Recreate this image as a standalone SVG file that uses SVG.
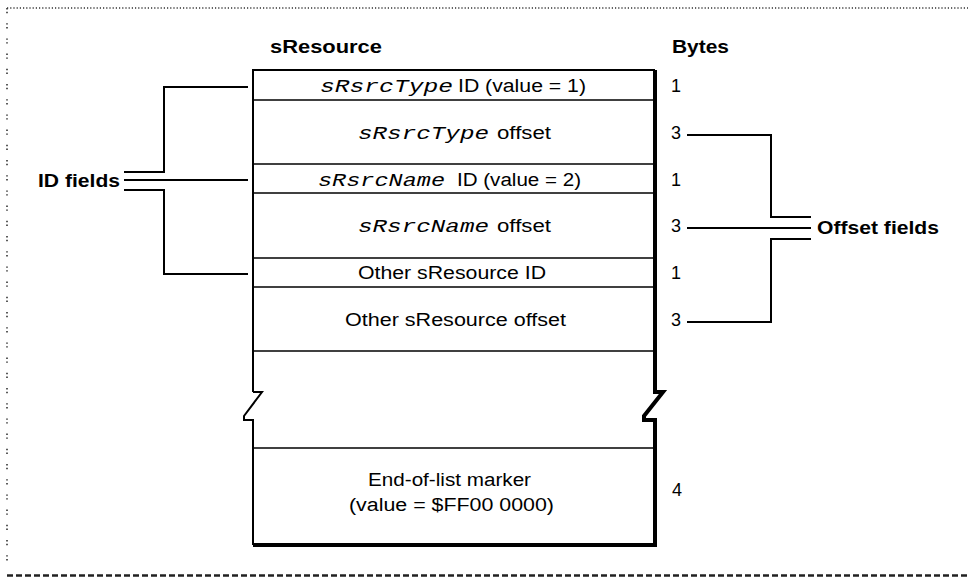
<svg xmlns="http://www.w3.org/2000/svg" width="968" height="579" viewBox="0 0 968 579">
<style>
  .sans { font-family: "Liberation Sans", Arial, sans-serif; font-size: 18px; fill: #000; }
  .code { font-family: "Liberation Mono", "Courier New", monospace; font-style: italic; font-size: 19px; fill: #000; }
  .bold { font-family: "Liberation Sans", Arial, sans-serif; font-weight: bold; font-size: 18px; fill: #000; }
  .num { font-family: "Liberation Sans", Arial, sans-serif; font-size: 18px; fill: #000; }
  .div { stroke: #000; stroke-width: 1.6; fill: none; }
  .frame { stroke: #000; stroke-width: 2; fill: none; stroke-linejoin: miter; }
  .conn { stroke: #000; stroke-width: 2; fill: none; }
</style>
<rect width="968" height="579" fill="#fff"/>
<g id="border">
  <line x1="7" y1="8" x2="968" y2="8" stroke="#333" stroke-width="1.5" stroke-dasharray="1.2 2"/>
  <line x1="7" y1="8" x2="7" y2="568" stroke="#333" stroke-width="1.6" stroke-dasharray="1.4 2.4 1.4 10"/>
  <line x1="7" y1="575.5" x2="968" y2="575.5" stroke="#222" stroke-width="2.5" stroke-dasharray="6 3"/>
</g>
<g id="headers">
  <text class="bold" x="270" y="53" textLength="112" lengthAdjust="spacingAndGlyphs">sResource</text>
  <text class="bold" x="672" y="53" textLength="57" lengthAdjust="spacingAndGlyphs">Bytes</text>
</g>
<g id="sresource-frame">
  <path class="frame" d="M253,392 V70 H655"/>
  <path class="frame" d="M253,392 H262 L244,416 V420 H253 V545"/>
  <path d="M655,70 V392 H663 L644,416 V420 H655 V545" stroke="#000" stroke-width="4" fill="none"/>
  <line x1="253" y1="545" x2="657" y2="545" stroke="#000" stroke-width="4"/>
</g>
<g id="row-srsrctype-id">
  <line class="div" x1="253" y1="100" x2="655" y2="100"/>
  <text class="code" x="320" y="92" textLength="133" lengthAdjust="spacingAndGlyphs">sRsrcType</text>
  <text class="sans" x="458" y="92" textLength="128" lengthAdjust="spacingAndGlyphs">ID (value = 1)</text>
  <text class="num" x="671" y="92">1</text>
</g>
<g id="row-srsrctype-offset">
  <line class="div" x1="253" y1="164" x2="655" y2="164"/>
  <text class="code" x="358" y="139" textLength="131" lengthAdjust="spacingAndGlyphs">sRsrcType</text>
  <text class="sans" x="497" y="139" textLength="54" lengthAdjust="spacingAndGlyphs">offset</text>
  <text class="num" x="671" y="139">3</text>
</g>
<g id="row-srsrcname-id">
  <line class="div" x1="253" y1="193" x2="655" y2="193"/>
  <text class="code" x="318" y="186" textLength="127" lengthAdjust="spacingAndGlyphs">sRsrcName</text>
  <text class="sans" x="457" y="186" textLength="124" lengthAdjust="spacingAndGlyphs">ID (value = 2)</text>
  <text class="num" x="671" y="186">1</text>
</g>
<g id="row-srsrcname-offset">
  <line class="div" x1="253" y1="258" x2="655" y2="258"/>
  <text class="code" x="358" y="232" textLength="131" lengthAdjust="spacingAndGlyphs">sRsrcName</text>
  <text class="sans" x="497" y="232" textLength="54" lengthAdjust="spacingAndGlyphs">offset</text>
  <text class="num" x="671" y="232">3</text>
</g>
<g id="row-other-id">
  <line class="div" x1="253" y1="287" x2="655" y2="287"/>
  <text class="sans" x="358" y="279" textLength="188" lengthAdjust="spacingAndGlyphs">Other sResource ID</text>
  <text class="num" x="671" y="279">1</text>
</g>
<g id="row-other-offset">
  <line class="div" x1="253" y1="351" x2="655" y2="351"/>
  <text class="sans" x="345" y="326" textLength="221" lengthAdjust="spacingAndGlyphs">Other sResource offset</text>
  <text class="num" x="671" y="326">3</text>
</g>
<g id="row-end-marker">
  <line class="div" x1="253" y1="448" x2="655" y2="448"/>
  <text class="sans" x="368" y="486" textLength="163" lengthAdjust="spacingAndGlyphs">End-of-list marker</text>
  <text class="sans" x="349" y="511" textLength="205" lengthAdjust="spacingAndGlyphs">(value = $FF00 0000)</text>
  <text class="num" x="672" y="496">4</text>
</g>
<g id="id-fields">
  <text class="bold" x="38" y="187" textLength="82" lengthAdjust="spacingAndGlyphs">ID fields</text>
</g>
<g id="offset-fields">
  <text class="bold" x="817" y="234" textLength="122" lengthAdjust="spacingAndGlyphs">Offset fields</text>
</g>
<g id="connectors">
  <path class="conn" d="M248,87 H164 V172 H124"/>
  <path class="conn" d="M124,180 H248"/>
  <path class="conn" d="M124,190 H164 V274 H248"/>
  <path class="conn" d="M687,135 H771 V217 H811"/>
  <path class="conn" d="M687,228 H811"/>
  <path class="conn" d="M811,239 H771 V322 H687"/>
</g>
</svg>
